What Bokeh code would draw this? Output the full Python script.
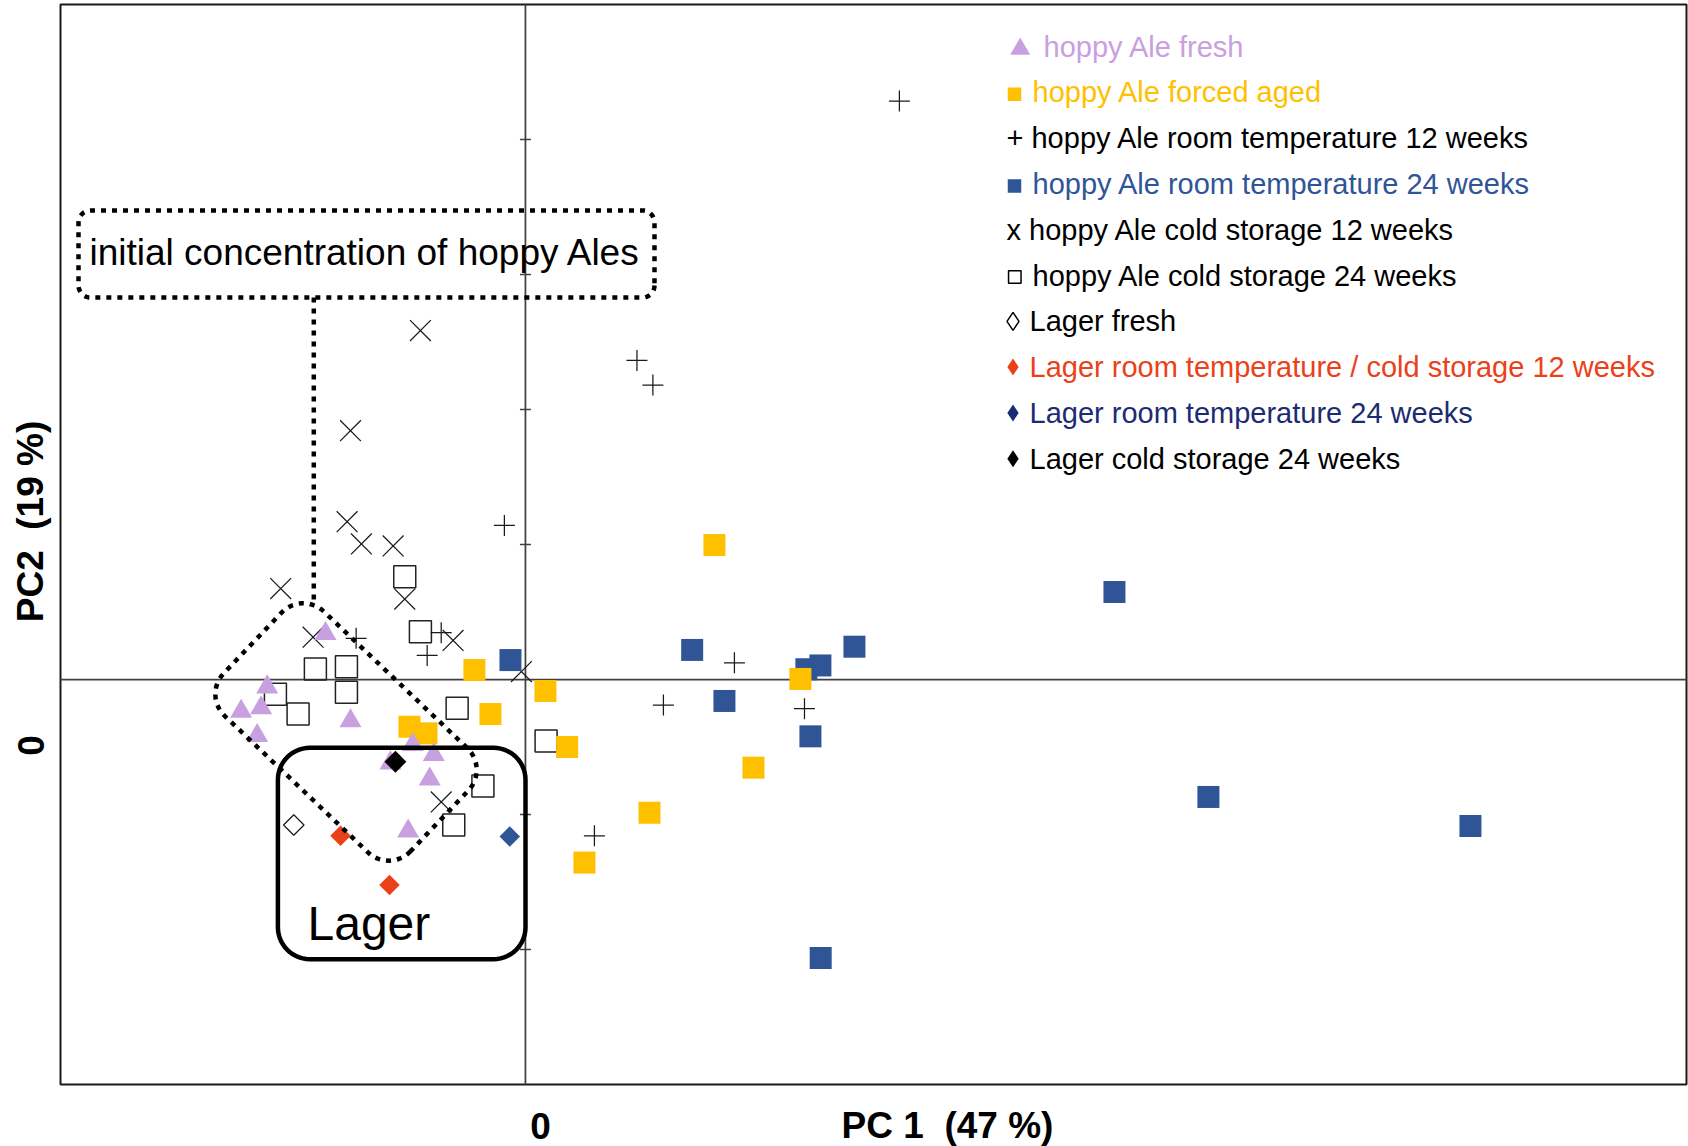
import math

from bokeh.plotting import figure
from bokeh.models import Range1d, Label
from bokeh.embed import file_html
from bokeh.resources import INLINE

# ---- PCA scores (PC1, PC2) for each sample group ----
ale_fresh_pc1 = [-1.481, -1.913, -2.106, -1.958, -1.296, -1.987, -0.835, -0.679, -1.000, -0.709, -0.869]
ale_fresh_pc2 = [0.339, -0.056, -0.236, -0.211, -0.307, -0.416, -0.483, -0.557, -0.619, -0.739, -1.124]

ale_forced_pc1 = [-0.378, 0.148, -0.259, -0.859, -0.733, 0.309, 1.400, 2.037, 1.689, 0.919, 0.437]
ale_forced_pc2 = [0.070, -0.085, -0.256, -0.350, -0.399, -0.500, 0.996, 0.004, -0.653, -0.987, -1.356]

ale_rt12_pc1 = [2.770, 0.826, 0.944, -0.156, 1.548, 1.022, 2.067, 0.511, -1.254, -0.624, -0.728]
ale_rt12_pc2 = [4.285, 2.363, 2.181, 1.141, 0.124, -0.189, -0.216, -1.158, 0.305, 0.347, 0.178]

ale_rt24_pc1 = [-0.111, 1.235, 1.474, 2.081, 2.185, 2.437, 2.111, 2.187, 4.363, 5.059, 7.000]
ale_rt24_pc2 = [0.144, 0.219, -0.159, 0.076, 0.104, 0.243, -0.421, -2.063, 0.648, -0.870, -1.085]

ale_cold12_pc1 = [-0.778, -1.296, -1.321, -1.215, -0.980, -1.813, -0.894, -1.573, -0.536, -0.030, -0.624]
ale_cold12_pc2 = [2.585, 1.843, 1.169, 1.004, 0.989, 0.674, 0.596, 0.313, 0.289, 0.059, -0.907]

ale_cold24_pc1 = [-0.894, -0.778, -1.556, -1.326, -1.852, -1.326, -1.684, -0.506, 0.153, -0.315, -0.531]
ale_cold24_pc2 = [0.761, 0.354, 0.078, 0.095, -0.110, -0.095, -0.256, -0.213, -0.455, -0.789, -1.078]

lager_fresh_pc1 = [-1.716]
lager_fresh_pc2 = [-1.078]
lager_12_pc1 = [-1.370, -1.007]
lager_12_pc2 = [-1.157, -1.522]
lager_rt24_pc1 = [-0.116]
lager_rt24_pc2 = [-1.163]
lager_cold24_pc1 = [-0.963]
lager_cold24_pc2 = [-0.609]

# y-axis tick positions (drawn on the PC1 = 0 line)
y_ticks = [-2, -1, 1, 2, 3, 4]

# axis texts (no-break space keeps the double gap in SVG)
x_title = "PC 1\u00a0 (47 %)"
y_title = "PC2\u00a0 (19 %)"
origin_label = "0"

# legend entries (the "+" and "x" rows carry their symbol as text)
legend_labels = [
    "hoppy Ale fresh",
    "hoppy Ale forced aged",
    "+ hoppy Ale room temperature 12 weeks",
    "hoppy Ale room temperature 24 weeks",
    "x hoppy Ale cold storage 12 weeks",
    "hoppy Ale cold storage 24 weeks",
    "Lager fresh",
    "Lager room temperature / cold storage 12 weeks",
    "Lager room temperature 24 weeks",
    "Lager cold storage 24 weeks",
]

LAVENDER = "#C8A0E0"
GOLD = "#FFC000"
STEEL = "#2F5597"
RED = "#EB4119"
NAVY = "#1C2C72"
INK = "#1a1a1a"
AXIS_GREY = "#404040"
FONT = "Liberation Sans"

legend_text_colors = [LAVENDER, GOLD, "black", STEEL, "black", "black", "black", RED, NAVY, "black"]
legend_text_x = [1043, 1032, 1006, 1032, 1006, 1032, 1029, 1029, 1029, 1029]
legend_keys = [
    # marker, key x (px), size, fill, line, y offset
    ("triangle", 1019.7, 20, LAVENDER, None, 2.5),
    ("square", 1014, 13.5, GOLD, None, 2),
    None,
    ("square", 1014, 13.5, STEEL, None, 2),
    None,
    ("square", 1014.3, 12.5, None, "black", 1.5),
    ("diamond", 1012.5, 18, None, "black", 0),
    ("diamond", 1012.5, 17, RED, None, 0),
    ("diamond", 1012.5, 17, NAVY, None, 0),
    ("diamond", 1012.5, 17, "black", None, 0),
]
LEGEND_TOP = 46
LEGEND_STEP = 45.8

# ---- geometry: plot box 60..1686 x 4..1084 px, 135 px per score unit ----
W, H = 1688, 1146
BOX_L, BOX_R, BOX_T, BOX_B = 60, 1686, 4, 1084
X_MIN, Y_MAX, PX_PER_UNIT = -3.444, 5.0, 135


def dx(px):
    """screen x (px) -> PC1 units"""
    return X_MIN + (px - BOX_L) / PX_PER_UNIT


def dy(py):
    """screen y (px, from top) -> PC2 units"""
    return Y_MAX - (py - BOX_T) / PX_PER_UNIT


def rounded_rect(cx, cy, hw, hh, r, ang_deg=0.0, n=14):
    """closed outline of a (rotated) rounded rectangle, returned in data units"""
    corners = [(hw - r, hh - r, 0), (-(hw - r), hh - r, 90),
               (-(hw - r), -(hh - r), 180), (hw - r, -(hh - r), 270)]
    pts = []
    for ox, oy, start in corners:
        for k in range(n + 1):
            t = math.radians(start + 90.0 * k / n)
            pts.append((ox + r * math.cos(t), oy + r * math.sin(t)))
    pts.append(pts[0])
    a = math.radians(ang_deg)
    ca, sa = math.cos(a), math.sin(a)
    xs, ys = [], []
    for x, y in pts:
        xs.append(dx(cx + x * ca - y * sa))
        ys.append(dy(cy + x * sa + y * ca))
    return xs, ys


# the whole canvas is the drawing frame, so the outer texts are not clipped
p = figure(
    width=W, height=H,
    x_range=Range1d(dx(0), dx(W)), y_range=Range1d(dy(H), dy(0)),
    x_axis_type=None, y_axis_type=None,
    toolbar_location=None, output_backend="svg",
    min_border=0, outline_line_color=None,
    background_fill_color="white", border_fill_color="white",
)

# plot-area border
p.quad(left=[dx(BOX_L)], right=[dx(BOX_R)], top=[dy(BOX_T)], bottom=[dy(BOX_B)],
       fill_color=None, line_color=INK, line_width=2)

# axes crossing at the origin, with ticks on the PC2 axis
p.segment(x0=[0, dx(BOX_L)], y0=[dy(BOX_T), 0], x1=[0, dx(BOX_R)], y1=[dy(BOX_B), 0],
          line_color=AXIS_GREY, line_width=1.75)
p.scatter([0] * len(y_ticks), y_ticks, marker="dash", size=11,
          line_color=AXIS_GREY, line_width=1.5)

# ---- sample scores ----
p.scatter(ale_cold24_pc1, ale_cold24_pc2, marker="square", size=22,
          fill_color=None, line_color="#222222", line_width=1.5)
p.scatter(ale_cold12_pc1, ale_cold12_pc2, marker="x", size=29.5,
          line_color=INK, line_width=1.25)
p.scatter(ale_rt12_pc1, ale_rt12_pc2, marker="cross", size=21,
          line_color=INK, line_width=1.25)
p.scatter(ale_rt24_pc1, ale_rt24_pc2, marker="square", size=22,
          fill_color=STEEL, line_color=None)
p.scatter(ale_forced_pc1, ale_forced_pc2, marker="square", size=22,
          fill_color=GOLD, line_color=None)
p.scatter(ale_fresh_pc1, ale_fresh_pc2, marker="triangle", size=22,
          fill_color=LAVENDER, line_color=None)
p.scatter(lager_fresh_pc1, lager_fresh_pc2, marker="square", angle=math.pi / 4,
          size=14.5, fill_color=None, line_color=INK, line_width=1.25)
p.scatter(lager_12_pc1, lager_12_pc2, marker="square", angle=math.pi / 4,
          size=14.5, fill_color=RED, line_color=None)
p.scatter(lager_rt24_pc1, lager_rt24_pc2, marker="square", angle=math.pi / 4,
          size=14.5, fill_color=STEEL, line_color=None)
p.scatter(lager_cold24_pc1, lager_cold24_pc2, marker="square", angle=math.pi / 4,
          size=15.5, fill_color="black", line_color=None)

# ---- group outlines ----
# Lager group (solid rounded box)
bx, by = rounded_rect(401.2, 853.0, 123.8, 105.7, 32)
p.line(bx, by, line_color="black", line_width=4.5)

# initial hoppy Ale samples (dotted, tilted rounded box)
tx, ty = rounded_rect(345.5, 731.5, 129, 72, 30, ang_deg=43.6)
p.line(tx, ty, line_color="black", line_width=4.5, line_dash="5 6")

# callout box and its connector
cx_, cy_ = rounded_rect(366.0, 253.5, 288, 43.5, 12)
p.line(cx_, cy_, line_color="black", line_width=4.5, line_dash="5 6")
p.line([dx(313.3), dx(313.3)], [dy(297), dy(604)], line_color="black",
       line_width=4.5, line_dash="5 6")

p.add_layout(Label(x=dx(89), y=dy(252), text="initial concentration of hoppy Ales",
                   text_font=FONT, text_font_size="37px", text_color="black",
                   text_align="left", text_baseline="middle"))
p.add_layout(Label(x=dx(307), y=dy(922.5), text="Lager",
                   text_font=FONT, text_font_size="48px", text_color="black",
                   text_align="left", text_baseline="middle"))

# ---- legend ----
for i, label in enumerate(legend_labels):
    row_y = LEGEND_TOP + LEGEND_STEP * i
    p.add_layout(Label(x=dx(legend_text_x[i]), y=dy(row_y), text=label,
                       text_font=FONT, text_font_size="29px",
                       text_color=legend_text_colors[i],
                       text_align="left", text_baseline="middle"))
    key = legend_keys[i]
    if key is None:
        continue
    marker, kx, ksize, kfill, kline, kdy = key
    p.scatter([dx(kx)], [dy(row_y + kdy)], marker=marker, size=ksize,
              fill_color=kfill, line_color=kline,
              line_width=1.5 if kline else 0)

# ---- axis titles and origin labels ----
bold = dict(text_font=FONT, text_font_size="37px", text_font_style="bold",
            text_color="black", text_baseline="middle", text_align="center")
p.add_layout(Label(x=dx(947), y=dy(1125), text=x_title, **bold))
p.add_layout(Label(x=dx(540), y=dy(1125), text=origin_label, **bold))
p.add_layout(Label(x=dx(30), y=dy(521), text=y_title, angle=math.pi / 2, **bold))
p.add_layout(Label(x=dx(30), y=dy(745), text=origin_label, angle=math.pi / 2, **bold))

open("out.html", "w").write(file_html(p, INLINE))
